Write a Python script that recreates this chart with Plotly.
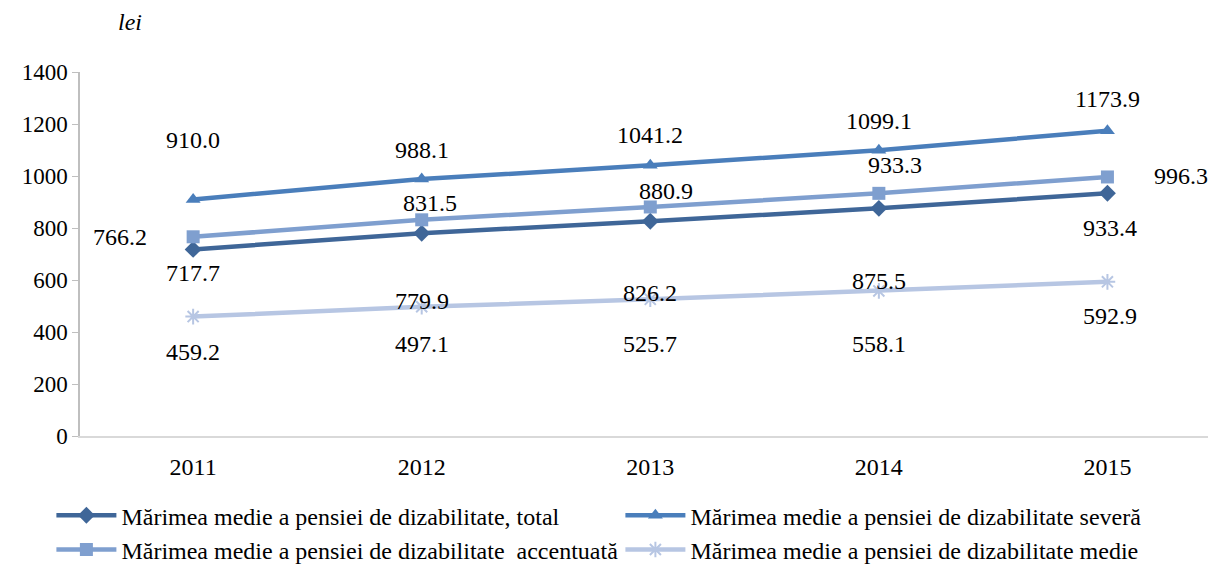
import plotly.graph_objects as go

years = ["2011", "2012", "2013", "2014", "2015"]
total = [717.7, 779.9, 826.2, 875.5, 933.4]
severa = [910.0, 988.1, 1041.2, 1099.1, 1173.9]
accentuata = [766.2, 831.5, 880.9, 933.3, 996.3]
medie = [459.2, 497.1, 525.7, 558.1, 592.9]

names = [
    "Mărimea medie a pensiei de dizabilitate, total",
    "Mărimea medie a pensiei de dizabilitate severă",
    "Mărimea medie a pensiei de dizabilitate  accentuată",
    "Mărimea medie a pensiei de dizabilitate medie",
]
colors = ["#3F6698", "#4A7EBB", "#7F9FCF", "#B7C6E3"]
symbols = ["diamond", "triangle-up", "square", "asterisk"]
series = [total, severa, accentuata, medie]

# label offsets (px) per series per point
offsets = [
    [(0, -24), (0, -68), (0, -72), (0, -73), (3, -35)],
    [(0, 59), (0, 29), (0, 30), (0, 29), (0, 32)],
    [(-73, 0), (8, 17), (16, 16), (16, 28), (74, 1)],
    [(0, -35), (0, -37), (0, -45), (0, -53), (3, -34)],
]

FONT = "Liberation Serif, Times New Roman, serif"
fig = go.Figure()
for i, s in enumerate(series):
    lc = colors[i]
    marker = dict(symbol=symbols[i], size=13, color=lc)
    if symbols[i] == "asterisk":
        marker = dict(symbol="asterisk", size=13, color=lc, line=dict(color=lc, width=2))
    fig.add_trace(go.Scatter(
        x=years, y=s, name=names[i], mode="lines+markers",
        line=dict(color=lc, width=4.5), marker=marker,
    ))
    for j, v in enumerate(s):
        dx, dy = offsets[i][j]
        fig.add_annotation(x=j, y=v, text=f"{v:.1f}", showarrow=False,
                           xshift=dx, yshift=dy,
                           font=dict(family=FONT, size=24, color="black"))

fig.add_annotation(xref="paper", yref="paper", x=0.0437, y=1.137,
                   xanchor="center", yanchor="middle",
                   text="<i>lei</i>", showarrow=False,
                   font=dict(family=FONT, size=24, color="black"))

fig.update_layout(
    width=1216, height=569,
    margin=dict(l=72, r=0, t=64, b=141),
    paper_bgcolor="white", plot_bgcolor="white",
    font=dict(family=FONT, size=24, color="black"),
    showlegend=True,
    legend=dict(orientation="h", x=-0.025, xanchor="left", y=-0.157, yanchor="top",
                entrywidth=494, entrywidthmode="pixels",
                font=dict(family=FONT, size=24, color="black"),
                itemwidth=60, tracegroupgap=0),
    xaxis=dict(type="category", range=[-0.495, 4.51], showgrid=False,
               showline=True, linecolor="#D9D9D9", linewidth=1.5,
               ticks="", ticklabelstandoff=8, tickfont=dict(family=FONT, size=24)),
    yaxis=dict(range=[0, 1400], dtick=200, showgrid=False,
               showline=True, linecolor="#BFBFBF", linewidth=1.5,
               ticks="outside", ticklen=6, tickcolor="#BFBFBF",
               tickfont=dict(family=FONT, size=23), zeroline=False),
)

fig.write_html("out.html")
